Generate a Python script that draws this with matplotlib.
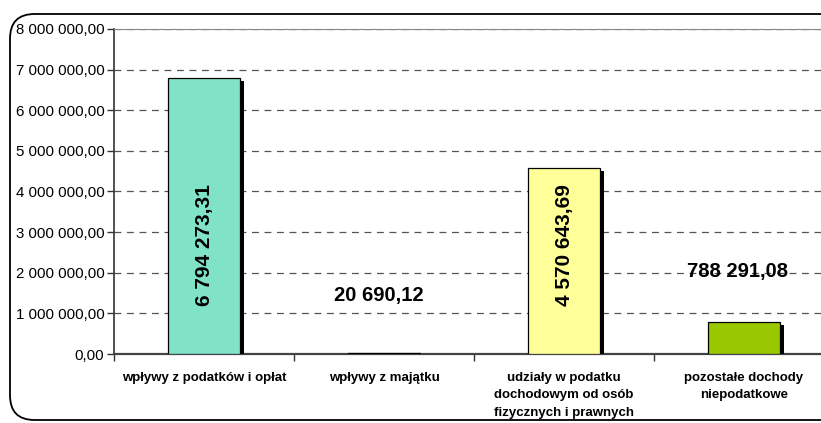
import matplotlib as mpl
import matplotlib.pyplot as plt
import matplotlib.patheffects as pe
from matplotlib.patches import FancyBboxPatch
from matplotlib.ticker import FuncFormatter

mpl.rcParams.update({'font.family': ['Liberation Sans', 'DejaVu Sans']})

categories = ['wpływy z podatków i opłat', 'wpływy z majątku',
              'udziały w podatku\ndochodowym od osób\nfizycznych i prawnych',
              'pozostałe dochody\nniepodatkowe']
values = [6794273.31, 20690.12, 4570643.69, 788291.08]
value_labels = ['6 794 273,31', '20 690,12', '4 570 643,69', '788 291,08']
colors = ['#80E3C8', '#1a1a1a', '#FFFF99', '#99C800']
yticks = [0, 1e6, 2e6, 3e6, 4e6, 5e6, 6e6, 7e6, 8e6]


def pl_fmt(v, pos=None):
    s = f'{v:,.2f}'
    return s.replace(',', ' ').replace('.', ',')


fig = plt.figure(figsize=(8.21, 4.23), dpi=100)

# outer rounded frame (extends past the right edge like the original crop)
frame = FancyBboxPatch((10 / 821, 3 / 423), 835 / 821, 406 / 423,
                       boxstyle='round,pad=0,rounding_size=0.03',
                       transform=fig.transFigure, fill=False,
                       edgecolor='black', linewidth=1.3, mutation_aspect=821 / 423)
fig.patches.append(frame)

# plot area is cut by the right edge of the image, as in the original
ax = fig.add_axes([114 / 821, 1 - 354 / 423, (821 - 114) / 821, (354 - 29) / 423])
x = list(range(len(categories)))
bars = ax.bar(x, values, width=0.4, color=colors, edgecolor='black',
              linewidth=0.9, zorder=3)
for b in bars:
    b.set_path_effects([pe.SimplePatchShadow(offset=(3, -2.2), shadow_rgbFace='black',
                                             alpha=1.0), pe.Normal()])

ax.set_ylim(0, 8e6)
ax.set_xlim(-0.5, -0.5 + (821 - 114) / 180)
ax.set_yticks(yticks)
ax.yaxis.set_major_formatter(FuncFormatter(pl_fmt))
ax.yaxis.grid(True, linestyle=(0, (5.5, 4.5)), color='#555555', linewidth=0.9, zorder=0)
ax.set_axisbelow(True)

ax.set_xticks([i + 0.5 for i in range(-1, 3)], minor=False)
ax.set_xticklabels([])
ax.set_xticks(x, minor=True)
ax.set_xticklabels(categories, minor=True, fontsize=9.5, fontweight='bold',
                   linespacing=1.6)
ax.tick_params(axis='x', which='minor', length=0, pad=13)
ax.tick_params(axis='x', which='major', length=5, width=1, color='#333333', direction='out')
ax.tick_params(axis='y', length=5, width=1, color='#333333', labelsize=10.8, pad=2)

ax.spines['right'].set_visible(False)
ax.spines['top'].set_color('#888888')
ax.spines['left'].set_color('#333333')
ax.spines['bottom'].set_color('#444444')
ax.spines['bottom'].set_linewidth(1.6)
ax.spines['left'].set_linewidth(1.2)

# value labels
ax.text(0, 2.68e6, value_labels[0], rotation=90, ha='center', va='center',
        fontsize=15, fontweight='bold', zorder=5)
ax.text(2, 2.68e6, value_labels[2], rotation=90, ha='center', va='center',
        fontsize=15, fontweight='bold', zorder=5)
ax.text(1 - 0.03, 1.43e6, value_labels[1], ha='center', va='center',
        fontsize=14.5, fontweight='bold', zorder=5)
ax.text(3 - 0.035, 2.02e6, value_labels[3], ha='center', va='center',
        fontsize=14.5, fontweight='bold', zorder=5)

fig.savefig('out.png', dpi=100)
